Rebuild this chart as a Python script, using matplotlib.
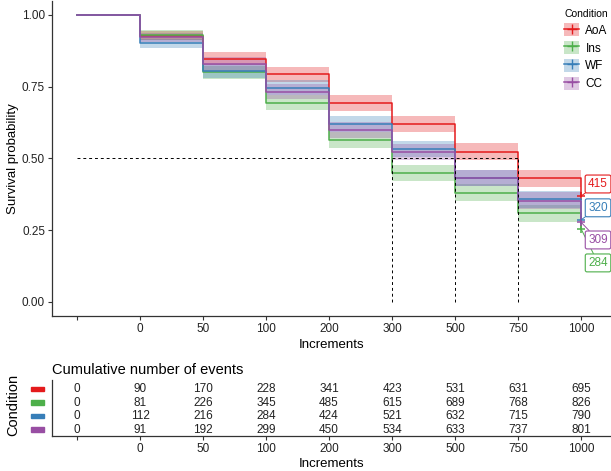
import matplotlib
matplotlib.use("Agg")
import matplotlib.pyplot as plt
from matplotlib.patches import Patch, Rectangle
from matplotlib.lines import Line2D
import matplotlib.transforms as mtransforms
import numpy as np

plt.rcParams['font.family'] = ['Liberation Sans', 'DejaVu Sans']

# ---------------- data ----------------
conditions = ["AoA", "Ins", "WF", "CC"]
colors = ["#E41A1C", "#4DAF4A", "#377EB8", "#984EA3"]
tick_labels = ["", "0", "50", "100", "200", "300", "500", "750", "1000"]

# survival probability in each interval (0-50, 50-100, ..., 750-1000)
surv_AoA = [0.928, 0.847, 0.794, 0.694, 0.620, 0.524, 0.431]
surv_Ins = [0.930, 0.800, 0.694, 0.564, 0.448, 0.381, 0.309]
surv_WF = [0.901, 0.805, 0.746, 0.620, 0.532, 0.432, 0.358]
surv_CC = [0.922, 0.829, 0.733, 0.599, 0.521, 0.432, 0.353]
# survival at the final increment (censor mark)
surv_final = [0.369, 0.255, 0.286, 0.278]
# half width of confidence band per interval
ci_halfwidth = [0.016, 0.023, 0.026, 0.027, 0.028, 0.029, 0.030]
# labels at end of curves
end_labels = ["415", "284", "320", "309"]

# cumulative number of events
events_AoA = [0, 90, 170, 228, 341, 423, 531, 631, 695]
events_Ins = [0, 81, 226, 345, 485, 615, 689, 768, 826]
events_WF = [0, 112, 216, 284, 424, 521, 632, 715, 790]
events_CC = [0, 91, 192, 299, 450, 534, 633, 737, 801]

surv = [surv_AoA, surv_Ins, surv_WF, surv_CC]
events = [events_AoA, events_Ins, events_WF, events_CC]

# layout for repelled end labels (data coords)
label_x = 8.27
label_y = [0.411, 0.136, 0.328, 0.216]

# ---------------- figure ----------------
W, H = 611, 471
fig = plt.figure(figsize=(W / 100, H / 100), dpi=100)
xl = (-0.397, 8.476)
left = 52 / W
ax = fig.add_axes([left, 1 - 316.3 / H, 1 - left, (316.3 - 0.6) / H])
axt = fig.add_axes([left, 1 - 436 / H, 1 - left, (436 - 380) / H])

pos = np.arange(len(tick_labels))

for i, (name, col) in enumerate(zip(conditions, colors)):
    s = surv[i]
    for k in range(len(s)):
        ax.fill_between([pos[k + 1], pos[k + 2]], s[k] - ci_halfwidth[k], s[k] + ci_halfwidth[k],
                        color=col, alpha=0.3, linewidth=0)
for i, (name, col) in enumerate(zip(conditions, colors)):
    s = surv[i]
    ys = [1.0] + list(s) + [surv_final[i]]
    ax.step(pos, ys, where='post', color=col, lw=1.1)
    ax.plot([pos[-1]], [surv_final[i]], marker='+', color=col, ms=6, mew=1.1)
    ax.annotate(end_labels[i], xy=(pos[-1], surv_final[i]), xytext=(label_x, label_y[i]),
                color=col, fontsize=8.5, ha='center', va='center',
                bbox=dict(boxstyle='round,pad=0.25,rounding_size=0.15', fc='white', ec=col, lw=0.8),
                arrowprops=dict(arrowstyle='-', color=col, lw=0.7, shrinkA=0, shrinkB=0))

# median lines
medians = []
for s in surv:
    idx = next(k for k, v in enumerate(s) if v <= 0.5)
    medians.append(pos[idx + 1])
ax.plot([pos[0], max(medians)], [0.5, 0.5], ls=(0, (3, 3)), color='black', lw=0.7)
for m in sorted(set(medians)):
    ax.plot([m, m], [0, 0.5], ls=(0, (3, 3)), color='black', lw=0.7)

ax.set_xlim(*xl)
ax.set_ylim(-0.05, 1.05)
ax.set_xticks(pos)
ax.set_xticklabels(tick_labels)
ax.set_yticks([0, 0.25, 0.5, 0.75, 1.0])
ax.set_yticklabels(["0.00", "0.25", "0.50", "0.75", "1.00"])
for side in ['top', 'right']:
    ax.spines[side].set_visible(False)
for side in ['left', 'bottom']:
    ax.spines[side].set_linewidth(0.9)
    ax.spines[side].set_color('#333333')
ax.tick_params(labelsize=8.5, length=3, width=0.8, color='#333333', labelcolor='#222222', pad=2)
ax.set_xlabel("Increments", fontsize=9.5, labelpad=3)
ax.set_ylabel("Survival probability", fontsize=9.5, labelpad=2)

handles = [(Patch(facecolor=c, alpha=0.3, edgecolor='none'),
            Line2D([], [], color=c, marker='+', lw=1.1, ms=7)) for c in colors]
leg = ax.legend(handles, conditions, title="Condition", loc='upper right',
                bbox_to_anchor=(1.009, 1.0), frameon=False, fontsize=8.5, title_fontsize=7.5,
                handlelength=1.3, handleheight=1.3, labelspacing=0.38, handletextpad=0.5,
                borderaxespad=0.3)
leg._legend_box.align = "left"

# ---------------- table ----------------
nrow = len(conditions)
for i in range(nrow):
    yrow = nrow - i
    for k in range(len(pos)):
        axt.text(pos[k], yrow, str(events[i][k]), ha='center', va='center', fontsize=8.5,
                 color='#222222')
axt.set_xlim(*xl)
axt.set_ylim(0.52, 4.67)
axt.set_xticks(pos)
axt.set_xticklabels(tick_labels)
axt.set_yticks([])
for side in ['top', 'right']:
    axt.spines[side].set_visible(False)
for side in ['left', 'bottom']:
    axt.spines[side].set_linewidth(0.9)
    axt.spines[side].set_color('#333333')
axt.tick_params(labelsize=8.5, length=3, width=0.8, color='#333333', labelcolor='#222222', pad=2)
axt.set_xlabel("Increments", fontsize=9.5, labelpad=2.5)
axt.set_title("Cumulative number of events", loc='left', fontsize=10.5, pad=4)

trans = mtransforms.blended_transform_factory(axt.transAxes, axt.transData)
bw = 13 / (W * (1 - left))
for i, col in enumerate(colors):
    yrow = nrow - i
    axt.add_patch(Rectangle((-(52 - 31) / (W * (1 - left)), yrow - 0.17), bw, 0.34,
                            transform=trans, color=col, clip_on=False))
fig.text(13 / W, 1 - 405 / H, "Condition", rotation=90, ha='center', va='center', fontsize=10.5)

fig.savefig("out.png", dpi=100)
